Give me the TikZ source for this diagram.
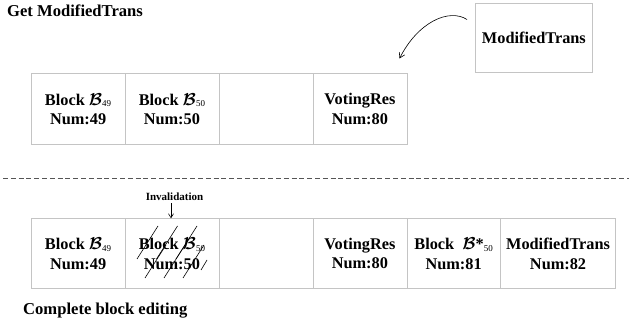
\documentclass[tikz,border=0pt]{standalone}
\usepackage{amsmath}
\usepackage{fontspec}
\setmainfont{Liberation Serif}
\usetikzlibrary{arrows.meta}
\definecolor{gridgray}{HTML}{C4C4C4}
\definecolor{dashgray}{HTML}{555555}
\newcommand{\calB}{$\boldsymbol{\mathcal{B}}$}
\newcommand{\subn}[1]{\raisebox{-1.5pt}{\fontsize{9}{9}\selectfont\mdseries #1}}
\tikzset{
  cell/.style={draw=gridgray, line width=0.8pt, minimum height=70.5pt, minimum width=94pt,
    inner sep=0pt, align=center, anchor=north west,
    font=\fontsize{16.3}{19.5}\selectfont\bfseries},
  title/.style={anchor=base west, inner sep=0pt, font=\fontsize{16.6}{19}\selectfont\bfseries},
  small/.style={inner sep=0pt, font=\fontsize{11}{12}\selectfont\bfseries},
  conn/.style={line width=0.6pt, -{Straight Barb[length=5pt,width=6pt]}},
  hatch/.style={line width=0.6pt}
}
\begin{document}
\begin{tikzpicture}[x=1pt,y=-1pt]
\useasboundingbox (0,0) rectangle (629,328);
% titles
\node[title] (t1) at (7,16.5) {Get ModifiedTrans};
\node[title] (t2) at (23,315) {Complete block editing};
% top row
\node[cell] (a1) at (30.7,73.3) {Block \calB\subn{49}\\Num:49};
\node[cell] (a2) at (124.5,73.3) {Block \calB\subn{50}\\Num:50};
\node[cell] (a3) at (218.5,73.3) {};
\node[cell] (a4) at (312.5,73.3) {VotingRes\\Num:80};
% top modified trans box
\node[cell, minimum width=116.4pt, minimum height=69.6pt] (m) at (475.3,2.7) {ModifiedTrans};
\coordinate (cs) at (467,19.5);
\coordinate (ce) at (399.5,58.5);
\draw[conn] (cs) .. controls (449,8) and (418,22) .. (ce);
% dashed separator
\coordinate (dl) at (3,178.7);
\coordinate (dr) at (629,178.7);
\draw[dashgray, line width=0.9pt, dash pattern=on 5pt off 2.8pt] (dl) -- (dr);
% bottom row
\node[cell, minimum height=70pt] (b1) at (30.7,218.3) {Block \calB\subn{49}\\Num:49};
\node[cell, minimum height=70pt] (b2) at (124.5,218.3) {Block \calB\subn{50}\\Num:50};
\node[cell, minimum height=70pt] (b3) at (218.5,218.3) {};
\node[cell, minimum height=70pt] (b4) at (312.5,218.3) {VotingRes\\Num:80};
\node[cell, minimum height=70pt, minimum width=93.5pt] (b5) at (406.5,218.3) {Block\ \ \calB*\subn{50}\\Num:81};
\node[cell, minimum height=70pt, minimum width=115.3pt] (b6) at (500,218.3) {ModifiedTrans\\Num:82};
% hatching (two staggered rows of slanted strokes)
\foreach \t in {158,177.5,197} \draw[hatch] (\t,226) -- ++(-21,33);
\foreach \b in {145,164,183} \draw[hatch] (\b,278) -- ++(21,-33);
\draw[hatch] (201,270) -- ++(6,-10);
% invalidation
\node[small] (inv) at (174.5,197) {Invalidation};
\coordinate (ia) at (171,203.5);
\draw[line width=0.6pt, -{Straight Barb[length=4pt,width=5pt]}] (ia) -- (ia |- b2.north);
\end{tikzpicture}
\end{document}
